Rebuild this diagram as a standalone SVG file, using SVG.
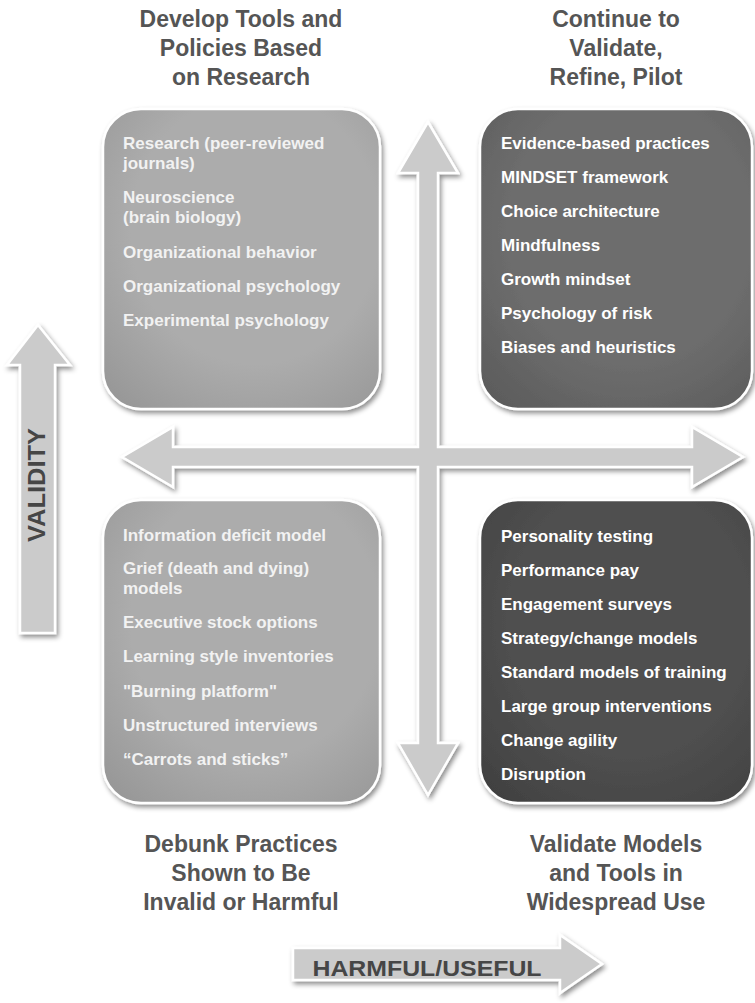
<svg xmlns="http://www.w3.org/2000/svg" width="755" height="1003" viewBox="0 0 755 1003">
<defs>
<filter id="sh" x="-10%" y="-10%" width="125%" height="125%">
<feDropShadow dx="2" dy="3" stdDeviation="2.5" flood-color="#000" flood-opacity="0.45"/>
</filter>
<radialGradient id="gLight" cx="0.55" cy="0.4" r="0.75">
<stop offset="0.6" stop-color="#acacac"/>
<stop offset="1" stop-color="#989898"/>
</radialGradient>
<radialGradient id="gMid" cx="0.55" cy="0.4" r="0.75">
<stop offset="0.6" stop-color="#6d6d6d"/>
<stop offset="1" stop-color="#5c5c5c"/>
</radialGradient>
<radialGradient id="gDark" cx="0.55" cy="0.4" r="0.75">
<stop offset="0.6" stop-color="#4f4f4f"/>
<stop offset="1" stop-color="#414141"/>
</radialGradient>
<style>
.box{stroke:#ffffff;stroke-width:2.5;filter:url(#sh)}
.arrow{fill:#cbcbcb;stroke:#ffffff;stroke-width:2.5;stroke-linejoin:miter;filter:url(#sh)}
.t{font-family:"Liberation Sans",Arial,Helvetica,sans-serif;font-weight:bold}
.title{font-size:23px;fill:#555555;text-anchor:middle}
.item{font-size:17px}
.lt{fill:#f2f2f2}
.wt{fill:#ffffff}
.axis{fill:#464646}
</style>
</defs>
<rect width="755" height="1003" fill="#ffffff"/>

<g id="connectors">
<path id="cross-arrows" class="arrow" d="M428,122 L458,173 L438,173 L438,447 L692,447 L692,427 L743,457 L692,487 L692,467 L438,467 L438,743 L458,743 L428,795 L398,743 L418,743 L418,467 L173,467 L173,487 L122,457 L173,427 L173,447 L418,447 L418,173 L398,173 Z"/>
</g>

<g id="validity-axis">
<path class="arrow" d="M38,325 L70,365 L55,365 L55,633 L20,633 L20,365 L7,365 Z"/>
<text class="t axis" font-size="23" text-anchor="middle" transform="translate(45,485) rotate(-90)" textLength="114" lengthAdjust="spacingAndGlyphs">VALIDITY</text>
</g>

<g id="harmful-useful-axis">
<path class="arrow" d="M293,948 L560,948 L560,935 L602,964 L560,993 L560,980 L293,980 Z"/>
<text class="t axis" font-size="22" x="427" y="976" text-anchor="middle" textLength="229" lengthAdjust="spacingAndGlyphs">HARMFUL/USEFUL</text>
</g>

<g id="title-top-left" class="t title">
<text x="241" y="27">Develop Tools and</text>
<text x="241" y="56">Policies Based</text>
<text x="241" y="85">on Research</text>
</g>
<g id="title-top-right" class="t title">
<text x="616" y="27">Continue to</text>
<text x="616" y="56">Validate,</text>
<text x="616" y="85">Refine, Pilot</text>
</g>
<g id="title-bottom-left" class="t title">
<text x="241" y="852">Debunk Practices</text>
<text x="241" y="881">Shown to Be</text>
<text x="241" y="910">Invalid or Harmful</text>
</g>
<g id="title-bottom-right" class="t title">
<text x="616" y="852">Validate Models</text>
<text x="616" y="881">and Tools in</text>
<text x="616" y="910">Widespread Use</text>
</g>

<g id="box-top-left">
<rect class="box" x="103" y="109" width="277" height="300" rx="38" fill="url(#gLight)"/>
<g class="t item lt">
<text x="123" y="149">Research (peer-reviewed</text>
<text x="123" y="169">journals)</text>
<text x="123" y="203">Neuroscience</text>
<text x="123" y="223">(brain biology)</text>
<text x="123" y="258">Organizational behavior</text>
<text x="123" y="292">Organizational psychology</text>
<text x="123" y="326">Experimental psychology</text>
</g>
</g>

<g id="box-top-right">
<rect class="box" x="480" y="109" width="272" height="300" rx="38" fill="url(#gMid)"/>
<g class="t item wt">
<text x="501" y="149">Evidence-based practices</text>
<text x="501" y="183">MINDSET framework</text>
<text x="501" y="217">Choice architecture</text>
<text x="501" y="251">Mindfulness</text>
<text x="501" y="285">Growth mindset</text>
<text x="501" y="319">Psychology of risk</text>
<text x="501" y="353">Biases and heuristics</text>
</g>
</g>

<g id="box-bottom-left">
<rect class="box" x="103" y="500" width="277" height="303" rx="38" fill="url(#gLight)"/>
<g class="t item lt">
<text x="123" y="541">Information deficit model</text>
<text x="123" y="574">Grief (death and dying)</text>
<text x="123" y="594">models</text>
<text x="123" y="628">Executive stock options</text>
<text x="123" y="662">Learning style inventories</text>
<text x="123" y="697">"Burning platform"</text>
<text x="123" y="731">Unstructured interviews</text>
<text x="123" y="765">“Carrots and sticks”</text>
</g>
</g>

<g id="box-bottom-right">
<rect class="box" x="480" y="500" width="272" height="303" rx="38" fill="url(#gDark)"/>
<g class="t item wt">
<text x="501" y="542">Personality testing</text>
<text x="501" y="576">Performance pay</text>
<text x="501" y="610">Engagement surveys</text>
<text x="501" y="644">Strategy/change models</text>
<text x="501" y="678">Standard models of training</text>
<text x="501" y="712">Large group interventions</text>
<text x="501" y="746">Change agility</text>
<text x="501" y="780">Disruption</text>
</g>
</g>
</svg>
